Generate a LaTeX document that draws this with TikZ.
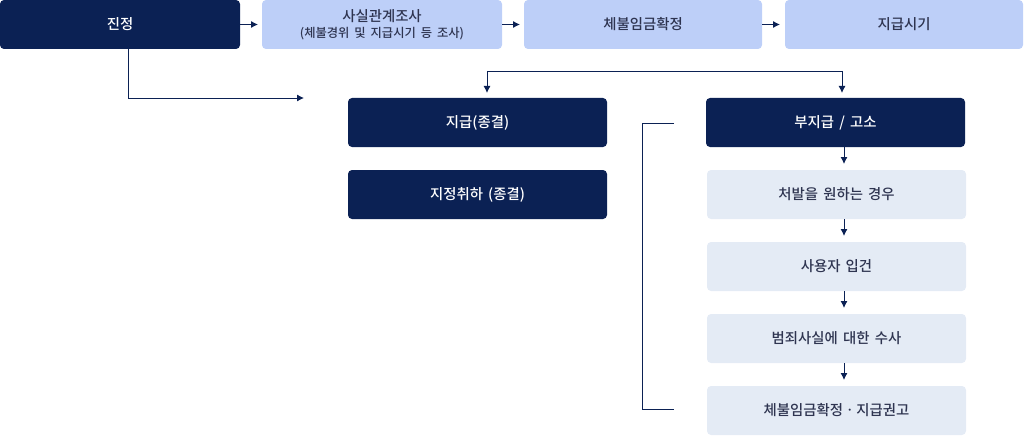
\documentclass[tikz,border=0pt]{standalone}
\usepackage{fontspec}
\setmainfont{Noto Sans CJK KR}[UprightFont=* Medium]
\usetikzlibrary{arrows.meta}
\definecolor{navy}{HTML}{0B2154}
\definecolor{lblue}{HTML}{BDCFF8}
\definecolor{pale}{HTML}{E4EBF5}
\definecolor{txt}{HTML}{2E3450}
\newcommand{\boxfont}{\fontsize{14.4pt}{17pt}\selectfont\spaceskip=0.36em\relax}
\newcommand{\subfont}{\fontsize{12.3pt}{15pt}\selectfont\spaceskip=0.4em\relax}
\begin{document}
\begin{tikzpicture}[x=1pt,y=-1pt,
  box/.style={anchor=north west,inner sep=0pt,outer sep=0pt,rounded corners=4pt,
    minimum height=49pt,font=\boxfont,align=center},
  darkbox/.style={box,fill=navy,text=white},
  bluebox/.style={box,fill=lblue,text=txt},
  palebox/.style={box,fill=pale,text=txt},
  arr/.style={draw=navy,line width=0.9pt,-{Latex[length=7pt,width=7pt]}},
  ln/.style={draw=navy,line width=0.9pt}]
\useasboundingbox (0,0) rectangle (1026,436);
% top row
\node[darkbox,minimum width=240pt] (jin) at (0,0) {진정};
\node[bluebox,minimum width=240pt] (sasil) at (262,0) {사실관계조사\\[-1pt]{\subfont (체불경위 및 지급시기 등 조사)}};
\node[bluebox,minimum width=238pt] (hwak) at (524,0) {체불임금확정};
\node[bluebox,minimum width=238pt] (sigi) at (785,0) {지급시기};
% left column
\node[darkbox,minimum width=259pt] (jigeup) at (348,98) {지급(종결)};
\node[darkbox,minimum width=259pt] (chwiha) at (348,170) {지정취하 (종결)};
% right column
\node[darkbox,minimum width=259pt] (buji) at (706,98) {부지급 / 고소};
\node[palebox,minimum width=259pt] (cheobal) at (707,170) {처발을 원하는 경우};
\node[palebox,minimum width=259pt] (ipgeon) at (707,242) {사용자 입건};
\node[palebox,minimum width=259pt] (susa) at (707,314) {범죄사실에 대한 수사};
\node[palebox,minimum width=259pt] (gwon) at (707,386) {체불임금확정ㆍ지급권고};
% coordinates
\coordinate (dx) at (128,0);
\coordinate (free) at (304,98);
\coordinate (sL) at (487,71);
\coordinate (sR) at (842,71);
\coordinate (cx) at (844,0);
\coordinate (b1) at (674,123);
\coordinate (b2) at (642,123);
\coordinate (b3) at (642,409);
\coordinate (b4) at (674,409);
% top arrows
\draw[arr,shorten >=4pt] (jin.east) -- (sasil.west);
\draw[arr,shorten >=4pt] (sasil.east) -- (hwak.west);
\draw[arr,shorten >=5pt] (hwak.east) -- (sigi.west);
\draw[arr] (dx |- jin.south) |- (free);
% split
\draw[ln] (sL) -- (sR);
\draw[arr,shorten >=5pt] (sL) -- (sL |- jigeup.north);
\draw[arr,shorten >=5pt] (sR) -- (sR |- buji.north);
% right column arrows
\draw[arr,shorten >=6pt] (cx |- buji.south) -- (cx |- cheobal.north);
\draw[arr,shorten >=6pt] (cx |- cheobal.south) -- (cx |- ipgeon.north);
\draw[arr,shorten >=6pt] (cx |- ipgeon.south) -- (cx |- susa.north);
\draw[arr,shorten >=6pt] (cx |- susa.south) -- (cx |- gwon.north);
% bracket
\draw[ln] (b1) -- (b2) -- (b3) -- (b4);
\end{tikzpicture}
\end{document}
